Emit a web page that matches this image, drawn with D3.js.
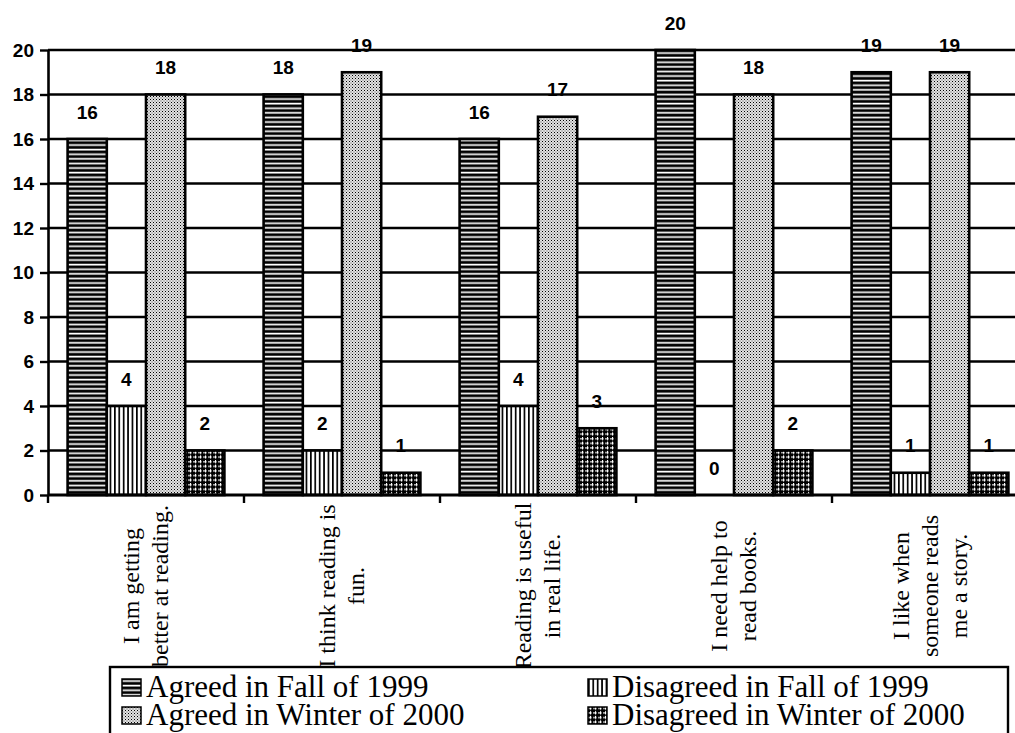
<!DOCTYPE html>
<html>
<head>
<meta charset="utf-8">
<script src="https://cdn.jsdelivr.net/npm/d3@7"></script>
<style>
  body { margin: 0; background: #fff; }
  svg { display: block; }
</style>
</head>
<body>
<div id="chartDiv"></div>
<script>
// data
var categories = [
  ["I am getting", "better at reading."],
  ["I think reading is", "fun."],
  ["Reading is useful", "in real life."],
  ["I need help to", "read books."],
  ["I like when", "someone reads", "me a story."]
];
var seriesNames = ["Agreed in Fall of 1999", "Disagreed in Fall of 1999",
                   "Agreed in Winter of 2000", "Disagreed in Winter of 2000"];
var agreedFall      = [16, 18, 16, 20, 19];
var disagreedFall   = [4, 2, 4, 0, 1];
var agreedWinter    = [18, 19, 17, 18, 19];
var disagreedWinter = [2, 1, 3, 2, 1];
var yTicks = [0, 2, 4, 6, 8, 10, 12, 14, 16, 18, 20];

var seriesValues = [agreedFall, disagreedFall, agreedWinter, disagreedWinter];
var patternIds = ["hStripe", "vStripe", "dots", "grid"];

var width = 1015, height = 733;
var left = 48, groupW = 196;

var svg = d3.select("#chartDiv").append("svg")
  .attr("width", width)
  .attr("height", height)
  .style("background", "#fff");

//////////////// patterns ////////////////
var defs = svg.append("defs");

var p = defs.append("pattern").attr("id", "hStripe")
  .attr("patternUnits", "userSpaceOnUse").attr("width", 6).attr("height", 4.6);
p.append("rect").attr("width", 6).attr("height", 4.6).attr("fill", "#000");
p.append("rect").attr("y", 1.6).attr("width", 6).attr("height", 1.7).attr("fill", "#fff");

p = defs.append("pattern").attr("id", "vStripe")
  .attr("patternUnits", "userSpaceOnUse").attr("width", 4.4).attr("height", 6);
p.append("rect").attr("width", 4.4).attr("height", 6).attr("fill", "#fff");
p.append("rect").attr("width", 1.7).attr("height", 6).attr("fill", "#000");

p = defs.append("pattern").attr("id", "dots")
  .attr("patternUnits", "userSpaceOnUse").attr("width", 3).attr("height", 3);
p.append("rect").attr("width", 3).attr("height", 3).attr("fill", "#e2e2e2");
p.append("rect").attr("width", 1).attr("height", 1).attr("fill", "#000");
p.append("rect").attr("x", 1.5).attr("y", 1.5).attr("width", 1).attr("height", 1).attr("fill", "#555");

p = defs.append("pattern").attr("id", "grid")
  .attr("patternUnits", "userSpaceOnUse").attr("width", 5).attr("height", 4.6);
p.append("rect").attr("width", 5).attr("height", 4.6).attr("fill", "#000");
p.append("rect").attr("x", 0).attr("y", 1.2).attr("width", 3.6).attr("height", 1.1).attr("fill", "#fff");
p.append("rect").attr("x", 2).attr("y", 0).attr("width", 1.1).attr("height", 3.2).attr("fill", "#fff");

//////////////// scales ////////////////
var y = d3.scaleLinear().domain([0, 20]).range([495, 50]);

var x0 = d3.scaleBand()
  .domain(d3.range(categories.length))
  .range([left, left + groupW * categories.length])
  .padding(0);

var x1 = d3.scaleBand()
  .domain(d3.range(seriesNames.length))
  .range([0, x0.bandwidth()])
  .paddingInner(0)
  .paddingOuter(0.5);

//////////////// gridlines ////////////////
svg.append("g").selectAll("line")
  .data(yTicks.filter(function(d) { return d > 0; }))
  .enter().append("line")
  .attr("x1", left).attr("x2", width)
  .attr("y1", function(d) { return y(d); })
  .attr("y2", function(d) { return y(d); })
  .attr("stroke", "#000")
  .attr("stroke-width", 2.6);

//////////////// bars ////////////////
var groups = svg.append("g").selectAll("g")
  .data(categories)
  .enter().append("g")
  .attr("transform", function(d, i) { return "translate(" + x0(i) + ",0)"; });

groups.selectAll("rect")
  .data(function(d, i) { return seriesValues.map(function(s, j) { return { s: j, v: s[i] }; }); })
  .enter().append("rect")
  .filter(function(d) { return d.v > 0; })
  .attr("x", function(d) { return x1(d.s); })
  .attr("width", x1.bandwidth())
  .attr("y", function(d) { return y(d.v); })
  .attr("height", function(d) { return y(0) - y(d.v); })
  .attr("fill", function(d) { return "url(#" + patternIds[d.s] + ")"; })
  .attr("stroke", "#000")
  .attr("stroke-width", 2.6);

groups.selectAll("text.val")
  .data(function(d, i) { return seriesValues.map(function(s, j) { return { s: j, v: s[i] }; }); })
  .enter().append("text")
  .attr("class", "val")
  .attr("x", function(d) { return x1(d.s) + x1.bandwidth() / 2; })
  .attr("y", function(d) { return y(d.v) - 20.5; })
  .attr("text-anchor", "middle")
  .style("font-family", "'Liberation Sans', Arial, sans-serif")
  .style("font-weight", "bold")
  .style("font-size", "19px")
  .text(function(d) { return d.v; });

//////////////// axes ////////////////
var yAxis = svg.append("g")
  .attr("transform", "translate(" + left + ",0)")
  .call(d3.axisLeft(y).tickValues(yTicks).tickSize(8).tickSizeOuter(0).tickPadding(6));
yAxis.select(".domain").attr("stroke", "#000").attr("stroke-width", 2.6);
yAxis.selectAll(".tick line").attr("stroke", "#000").attr("stroke-width", 2.4);
yAxis.selectAll(".tick text")
  .style("font-family", "'Liberation Sans', Arial, sans-serif")
  .style("font-weight", "bold")
  .style("font-size", "19px")
  .attr("fill", "#000");

svg.append("line")
  .attr("x1", left).attr("x2", width)
  .attr("y1", y(0)).attr("y2", y(0))
  .attr("stroke", "#000").attr("stroke-width", 2.8);

svg.append("g").selectAll("line")
  .data(d3.range(categories.length + 1))
  .enter().append("line")
  .attr("x1", function(i) { return left + groupW * i; })
  .attr("x2", function(i) { return left + groupW * i; })
  .attr("y1", y(0)).attr("y2", y(0) + 8)
  .attr("stroke", "#000").attr("stroke-width", 2.4);

// category labels, rotated
var catLabels = svg.append("g").selectAll("g")
  .data(categories)
  .enter().append("g")
  .attr("transform", function(d, i) { return "translate(" + (x0(i) + x0.bandwidth() / 2) + ",586) rotate(-90)"; });

catLabels.selectAll("text")
  .data(function(d) { return d.map(function(t, k) { return { t: t, k: k, n: d.length }; }); })
  .enter().append("text")
  .attr("x", 0)
  .attr("y", function(d) { return (d.k - (d.n - 1) / 2) * 29; })
  .attr("dy", "0.32em")
  .attr("text-anchor", "middle")
  .style("font-family", "'Liberation Serif', 'Times New Roman', serif")
  .style("font-size", "24px")
  .text(function(d) { return d.t; });

//////////////// legend ////////////////
var legend = svg.append("g");
legend.append("rect")
  .attr("x", 110).attr("y", 667)
  .attr("width", 898).attr("height", 80)
  .attr("fill", "#fff")
  .attr("stroke", "#000")
  .attr("stroke-width", 2.4);

var colX = [122, 588], rowY = [697, 725];
var items = legend.selectAll("g.item")
  .data(seriesNames)
  .enter().append("g")
  .attr("class", "item")
  .attr("transform", function(d, i) { return "translate(" + colX[i % 2] + "," + rowY[Math.floor(i / 2)] + ")"; });

items.append("rect")
  .attr("x", 0).attr("y", -18)
  .attr("width", 19).attr("height", 17)
  .attr("fill", function(d, i) { return "url(#" + patternIds[i] + ")"; })
  .attr("stroke", "#000")
  .attr("stroke-width", 1.5);

items.append("text")
  .attr("x", 24)
  .attr("y", 0)
  .style("font-family", "'Liberation Serif', 'Times New Roman', serif")
  .style("font-size", "31px")
  .text(function(d) { return d; });
</script>
</body>
</html>
